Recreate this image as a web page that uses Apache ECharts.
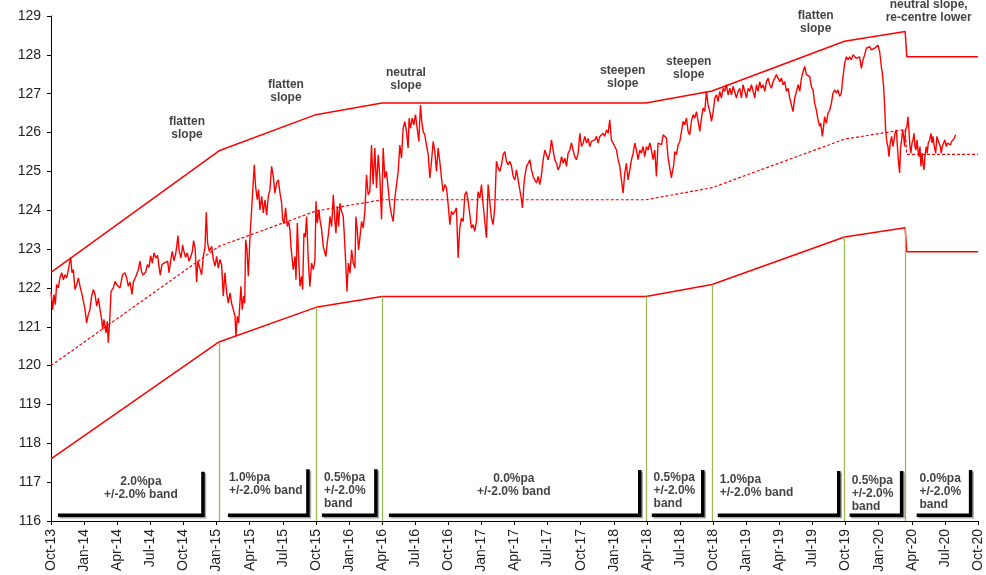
<!DOCTYPE html>
<html>
<head>
<meta charset="utf-8">
<script src="https://cdn.jsdelivr.net/npm/echarts@6/dist/echarts.min.js"></script>
<style>
html, body { margin: 0; padding: 0; background: #fff; }
#chart { width: 986px; height: 575px; }
</style>
</head>
<body>
<div id="chart"></div>
<script>
// x axis runs in months counted from Oct-13 (0) to Oct-20 (84)
const tickLabels = ['Oct-13','Jan-14','Apr-14','Jul-14','Oct-14','Jan-15','Apr-15','Jul-15','Oct-15',
  'Jan-16','Apr-16','Jul-16','Oct-16','Jan-17','Apr-17','Jul-17','Oct-17','Jan-18','Apr-18','Jul-18',
  'Oct-18','Jan-19','Apr-19','Jul-19','Oct-19','Jan-20','Apr-20','Jul-20','Oct-20'];

// price, [month, value]
const price = [
  [0.00,121.91],[0.15,121.44],[0.27,121.83],[0.39,121.57],[0.51,122.09],[0.66,122.00],[0.81,122.26],[0.97,122.39],
  [1.12,122.21],[1.27,122.34],[1.42,122.26],[1.57,122.47],[1.78,122.79],[1.90,122.39],[2.02,122.47],[2.17,121.96],
  [2.33,122.09],[2.48,122.26],[2.63,122.04],[2.78,121.87],[2.93,121.66],[3.08,121.44],[3.23,121.10],[3.38,121.32],
  [3.53,121.44],[3.68,121.79],[3.84,121.96],[3.99,121.83],[4.14,121.53],[4.29,121.74],[4.44,121.44],[4.59,121.19],
  [4.68,120.93],[4.80,121.19],[4.98,120.84],[5.10,121.14],[5.19,120.59],[5.31,121.10],[5.44,121.91],[5.65,122.00],
  [5.80,122.17],[5.95,122.09],[6.10,122.13],[6.25,122.00],[6.49,122.34],[6.70,122.39],[6.85,122.26],[7.01,122.04],
  [7.16,122.15],[7.34,121.83],[7.46,122.15],[7.70,122.30],[7.91,122.47],[8.06,122.69],[8.21,122.41],[8.36,122.33],
  [8.58,122.41],[8.73,122.60],[8.88,122.53],[9.03,122.83],[9.18,122.64],[9.33,122.90],[9.51,122.77],[9.66,122.84],
  [9.78,122.56],[9.90,122.33],[10.05,122.60],[10.24,122.64],[10.42,122.60],[10.57,122.69],[10.69,122.39],[10.84,122.69],
  [10.99,122.94],[11.14,122.70],[11.29,122.86],[11.41,123.11],[11.50,123.35],[11.62,122.94],[11.78,122.77],[11.93,123.11],
  [12.05,122.93],[12.20,122.79],[12.35,122.90],[12.50,122.69],[12.65,122.79],[12.80,122.93],[12.92,123.22],[13.07,122.99],
  [13.19,122.15],[13.31,122.69],[13.47,122.70],[13.65,122.34],[13.80,122.81],[13.95,123.03],[14.07,123.95],[14.19,123.16],
  [14.34,122.94],[14.56,123.07],[14.71,122.73],[14.86,122.56],[15.01,122.81],[15.16,122.51],[15.31,122.73],[15.46,122.60],
  [15.61,121.79],[15.76,122.39],[15.92,121.87],[16.07,121.61],[16.22,121.87],[16.37,121.60],[16.52,121.44],[16.67,121.27],
  [16.76,120.76],[16.88,121.27],[17.00,121.10],[17.12,121.61],[17.21,122.04],[17.33,121.44],[17.46,121.79],[17.55,121.61],
  [17.64,123.24],[17.76,122.98],[17.88,122.30],[18.03,123.31],[18.18,123.31],[18.33,124.74],[18.42,125.17],[18.54,124.61],
  [18.69,124.27],[18.81,124.53],[18.93,124.01],[19.09,124.36],[19.24,123.93],[19.39,124.27],[19.54,123.88],[19.69,124.36],
  [19.84,124.53],[19.99,125.13],[20.14,124.87],[20.29,124.44],[20.44,124.70],[20.60,124.78],[20.75,124.44],[20.90,124.18],
  [20.99,123.76],[21.11,123.65],[21.26,124.06],[21.41,123.58],[21.53,123.71],[21.65,123.50],[21.74,123.07],[21.86,122.73],
  [21.95,122.47],[22.11,122.81],[22.20,122.21],[22.32,123.67],[22.44,122.81],[22.56,122.04],[22.71,122.30],[22.80,121.96],
  [22.92,123.41],[23.04,123.31],[23.16,123.84],[23.31,122.73],[23.46,122.04],[23.61,122.64],[23.77,122.47],[23.92,122.73],
  [24.01,124.23],[24.13,123.67],[24.28,124.01],[24.37,123.76],[24.52,123.50],[24.67,123.07],[24.82,122.90],[24.91,122.81],
  [25.03,123.16],[25.15,123.41],[25.28,123.84],[25.43,123.58],[25.58,124.40],[25.70,123.84],[25.82,123.41],[25.94,124.10],
  [26.06,123.58],[26.18,124.18],[26.33,123.97],[26.48,123.84],[26.57,123.41],[26.69,122.73],[26.82,121.91],[26.94,122.64],
  [27.09,122.38],[27.24,122.98],[27.39,122.64],[27.54,122.51],[27.63,123.84],[27.75,123.50],[27.87,122.98],
  [27.99,123.29],[28.14,123.71],[28.29,123.54],[28.44,123.97],[28.59,124.91],[28.74,124.40],[28.89,124.48],[29.04,125.68],
  [29.19,124.66],[29.34,125.60],[29.50,124.57],[29.65,125.43],[29.80,124.83],[29.95,123.76],[30.10,125.60],[30.25,124.83],
  [30.40,125.00],[30.55,124.57],[30.70,124.14],[30.85,123.89],[31.01,123.71],[31.16,124.31],[31.31,124.66],[31.46,125.00],
  [31.61,125.68],[31.76,125.34],[31.91,126.11],[32.06,126.28],[32.21,126.03],[32.36,125.60],[32.45,126.37],[32.58,126.11],
  [32.73,126.37],[32.88,126.20],[33.03,126.46],[33.18,126.11],[33.33,125.77],[33.48,126.71],[33.60,126.28],[33.72,126.03],
  [33.87,125.94],[34.02,125.68],[34.18,125.43],[34.33,124.83],[34.48,125.26],[34.63,125.77],[34.78,125.51],[34.93,125.00],
  [35.08,125.60],[35.23,125.26],[35.38,124.83],[35.53,124.48],[35.69,124.66],[35.84,124.57],[35.99,124.14],[36.14,123.63],
  [36.29,123.97],[36.44,123.89],[36.59,123.97],[36.74,124.06],[36.89,122.77],[37.04,123.54],[37.19,123.80],[37.35,123.71],
  [37.50,124.40],[37.65,124.48],[37.80,124.23],[37.95,123.89],[38.10,123.54],[38.25,123.63],[38.40,123.46],[38.55,123.71],
  [38.70,124.48],[38.86,124.31],[39.01,124.66],[39.16,124.14],[39.31,123.71],[39.46,123.29],[39.61,124.66],[39.76,124.23],
  [39.91,123.80],[40.06,123.63],[40.21,124.06],[40.36,125.26],[40.52,125.09],[40.67,125.00],[40.82,125.17],[40.97,125.43],
  [41.12,125.51],[41.27,125.26],[41.42,125.17],[41.57,125.26],
  [41.73,125.13],[41.88,124.87],[42.03,124.78],[42.18,125.04],[42.33,124.78],[42.48,124.74],[42.63,124.27],[42.72,124.06],
  [42.84,124.61],[42.93,124.87],[43.09,125.13],[43.24,125.21],[43.39,125.30],[43.54,125.04],[43.69,124.87],[43.84,124.78],
  [43.99,124.70],[44.14,124.87],[44.29,124.66],[44.44,124.91],[44.60,125.30],[44.75,125.55],[44.90,125.55],[45.05,125.30],
  [45.20,125.47],[45.35,125.81],[45.50,125.55],[45.65,125.30],[45.80,125.21],[45.95,125.04],[46.10,125.13],[46.26,125.38],
  [46.41,125.21],[46.56,125.34],[46.71,125.13],[46.86,125.47],[47.01,125.55],[47.16,125.73],[47.31,125.55],[47.46,125.38],
  [47.61,125.30],[47.77,125.47],[47.92,125.98],[48.07,125.64],[48.22,125.73],[48.37,125.90],[48.52,125.73],[48.67,125.85],
  [48.82,125.64],[48.97,125.77],[49.12,125.73],[49.28,125.81],[49.43,125.90],[49.58,125.73],[49.73,125.90],[49.88,125.94],
  [50.03,125.98],[50.18,125.90],[50.33,126.07],[50.48,125.98],[50.63,126.33],[50.78,125.81],[50.94,125.77],[51.09,125.64],
  [51.24,125.55],[51.39,125.30],[51.54,125.13],[51.69,124.78],[51.84,124.44],[51.99,124.95],[52.14,125.21],[52.29,124.78],
  [52.45,125.04],[52.60,125.30],[52.75,125.47],[52.90,125.73],[53.05,125.55],[53.20,125.30],[53.35,125.55],[53.50,125.47],
  [53.65,125.64],[53.80,125.38],[53.96,125.64],[54.11,125.55],[54.26,125.73],[54.41,125.55],[54.56,125.30],[54.71,125.55],
  [54.86,124.87],[55.01,125.73],
  [55.17,125.77],[55.32,125.69],[55.47,125.94],[55.62,125.99],[55.77,125.86],[55.92,125.34],[56.07,125.09],[56.22,124.83],
  [56.31,125.00],[56.43,125.17],[56.52,125.51],[56.68,125.43],[56.83,125.69],[56.98,125.77],[57.13,126.03],[57.28,126.29],
  [57.43,126.20],[57.58,126.37],[57.73,126.03],[57.88,125.94],[58.03,126.29],[58.19,126.46],[58.34,126.37],[58.49,126.54],
  [58.64,126.29],[58.79,126.03],[58.94,126.37],[59.09,126.63],[59.24,126.54],[59.39,127.06],[59.54,126.71],[59.70,126.54],
  [59.85,126.29],[60.00,126.54],[60.15,126.89],[60.30,126.97],[60.45,126.80],[60.60,127.06],[60.75,126.89],[60.90,127.14],
  [61.05,127.06],[61.20,127.23],[61.36,126.97],[61.51,127.14],[61.66,126.97],[61.81,127.19],[61.96,127.14],[62.11,126.89],
  [62.26,127.06],[62.41,127.14],[62.56,126.89],[62.71,127.23],[62.87,127.06],[63.02,126.89],[63.17,127.14],[63.32,127.06],
  [63.47,127.23],[63.62,127.06],[63.77,126.89],[63.92,127.23],[64.07,127.06],[64.22,127.31],[64.37,127.14],[64.53,127.23],
  [64.68,127.06],[64.83,127.31],[64.98,127.40],[65.13,127.23],[65.28,127.14],[65.43,127.31],[65.58,127.40],[65.73,127.49],
  [65.88,127.40],[66.04,127.31],[66.19,127.40],[66.34,127.23],[66.49,127.31],[66.64,127.06],[66.79,127.14],[66.94,126.89],
  [67.09,126.71],[67.24,126.54],[67.39,126.89],[67.55,127.06],[67.70,127.23],[67.85,127.06],[68.00,127.40],[68.15,127.57],
  [68.30,127.70],[68.45,127.49],[68.60,127.53],
  [68.75,127.44],[68.90,127.18],[69.05,127.10],[69.20,126.75],[69.35,126.58],[69.50,126.33],[69.65,126.16],[69.74,126.24],
  [69.83,126.07],[69.89,125.90],[70.01,126.16],[70.10,126.41],[70.26,126.24],[70.41,126.50],[70.56,126.58],[70.71,126.75],
  [70.86,127.01],[71.01,127.10],[71.16,127.01],[71.31,127.10],[71.46,126.93],[71.61,127.01],[71.77,127.44],[71.92,127.78],
  [72.07,127.95],[72.22,127.87],[72.37,127.95],[72.52,127.87],[72.67,128.00],[72.82,127.95],[72.97,127.91],[73.12,127.87],
  [73.27,127.95],[73.43,127.65],[73.58,127.87],[73.73,128.00],[73.88,128.17],[74.03,128.13],[74.18,128.21],[74.33,128.13],
  [74.48,128.17],[74.63,128.17],[74.78,128.13],[74.94,128.25],[75.09,128.08],[75.24,127.70],[75.33,127.53],[75.45,127.18],
  [75.54,126.67],[75.63,126.07],[75.75,125.73],[75.84,125.64],[75.93,125.38],[76.05,125.73],[76.17,125.90],[76.30,125.64],
  [76.39,125.81],[76.48,125.98],[76.60,126.07],[76.72,125.55],[76.81,125.21],[76.90,124.96],[76.99,125.64],[77.08,125.81],
  [77.17,126.07],[77.26,125.90],[77.35,125.64],[77.44,126.07],[77.56,126.16],[77.65,126.41],[77.74,126.07],[77.83,125.64],
  [77.92,125.47],[78.02,125.73],[78.11,125.81],[78.20,125.98],[78.29,125.64],[78.38,125.55],[78.47,125.81],[78.56,125.55],
  [78.65,125.38],[78.74,125.64],[78.83,125.13],[78.92,125.47],[79.01,125.21],[79.10,125.04],[79.19,125.38],[79.31,125.64],
  [79.40,125.47],[79.49,125.73],[79.62,125.81],[79.74,125.98],[79.83,125.73],[79.92,125.90],[80.04,125.64],[80.16,125.47],
  [80.28,125.90],[80.37,125.81],[80.46,125.81],[80.58,125.64],[80.67,125.47],[80.76,125.64],[80.88,125.73],[81.00,125.81],
  [81.13,125.64],[81.25,125.73],[81.37,125.77],[81.49,125.68],[81.61,125.77],[81.73,125.81],[81.85,125.85],[81.97,125.94]
];

// trading band: centre line and +/-2% edges
const bandMonths = [0, 15.22, 24.0, 30.0, 53.9, 59.9, 71.9, 77.4, 77.55, 84];
const bandUpper  = [122.40, 125.53, 126.46, 126.76, 126.76, 127.07, 128.35, 128.60, 127.95, 127.95];
const bandMid    = [120.00, 123.07, 123.98, 124.27, 124.27, 124.58, 125.83, 126.08, 125.44, 125.44];
const bandLower  = [117.60, 120.61, 121.50, 121.78, 121.78, 122.09, 123.31, 123.55, 122.93, 122.93];

// regime changes (green markers)
const regimeMonths = [15.22, 24.0, 30.0, 53.9, 59.9, 71.9, 77.4];
const regimeTop    = [120.61, 121.50, 121.78, 121.78, 122.09, 123.31, 123.55];

// black brackets under each regime
const bracketStart = [0.63, 16.03, 24.55, 30.62, 54.44, 60.42, 72.37, 78.44];
const bracketEnd   = [13.77, 23.28, 29.44, 53.35, 59.06, 71.38, 77.08, 83.33];
const bracketTop   = [117.27, 117.33, 117.33, 117.31, 117.31, 117.29, 117.29, 117.31];

const bracketLabels = ['2.0%pa\n+/-2.0% band', '1.0%pa\n+/-2.0% band', '0.5%pa\n+/-2.0%\nband',
  '0.0%pa\n+/-2.0% band', '0.5%pa\n+/-2.0%\nband', '1.0%pa\n+/-2.0% band', '0.5%pa\n+/-2.0%\nband',
  '0.0%pa\n+/-2.0%\nband'];
const bracketLabelX = [8.15, 16.12, 24.73, 41.94, 54.6, 60.6, 72.55, 78.7];
const bracketLabelY = [116.85, 116.96, 116.78, 116.93, 116.78, 116.90, 116.71, 116.75];
const bracketLabelAlign = ['center', 'left', 'left', 'center', 'left', 'left', 'left', 'left'];

const slopeLabels = ['flatten\nslope', 'flatten\nslope', 'neutral\nslope', 'steepen\nslope',
  'steepen\nslope', 'flatten\nslope', 'neutral slope,\nre-centre lower'];
const slopeLabelX = [12.32, 21.29, 32.16, 51.81, 57.79, 69.29, 79.53];
const slopeLabelY = [126.11, 127.06, 127.37, 127.42, 127.65, 128.83, 129.12];

const FONT = '"Liberation Sans", Arial, sans-serif';

const chart = echarts.init(document.getElementById('chart'));

const zip = (xs, ys) => xs.map((x, i) => [x, ys[i]]);

const bracketSeries = bracketStart.map((s, i) => ({
  type: 'line',
  data: [[s, 116.15], [bracketEnd[i], 116.15], [bracketEnd[i], bracketTop[i]]],
  showSymbol: false,
  silent: true,
  lineStyle: {
    color: '#000', width: 3.5, cap: 'butt', join: 'miter',
    shadowColor: 'rgba(0,0,0,0.35)', shadowOffsetX: 1.5, shadowOffsetY: 1.5, shadowBlur: 0
  },
  z: 3
}));

chart.setOption({
  animation: false,
  backgroundColor: '#fff',
  grid: { left: 51, right: 8, top: 16, bottom: 54 },
  xAxis: {
    type: 'value',
    min: 0,
    max: 84,
    interval: 3,
    splitLine: { show: false },
    axisLine: { lineStyle: { color: '#000', width: 1 } },
    axisTick: { show: true, length: 4, lineStyle: { color: '#000' } },
    axisLabel: {
      rotate: 90,
      margin: 8,
      color: '#222',
      fontSize: 14,
      fontFamily: FONT,
      formatter: v => tickLabels[Math.round(v / 3)]
    }
  },
  yAxis: {
    type: 'value',
    min: 116,
    max: 129,
    interval: 1,
    splitLine: { show: false },
    axisLine: { show: true, lineStyle: { color: '#000', width: 1 } },
    axisTick: { show: true, length: 4, lineStyle: { color: '#000' } },
    axisLabel: { margin: 10, color: '#222', fontSize: 14, fontFamily: FONT }
  },
  series: [
    {
      // green regime markers
      type: 'line',
      data: [],
      silent: true,
      markLine: {
        symbol: 'none',
        silent: true,
        label: { show: false },
        lineStyle: { color: '#9bbb59', width: 1.3, type: 'solid' },
        data: regimeMonths.map((m, i) => [{ coord: [m, 116] }, { coord: [m, regimeTop[i]] }])
      },
      z: 2
    },
    ...bracketSeries,
    {
      type: 'line',
      data: zip(bandMonths, bandUpper),
      showSymbol: false,
      silent: true,
      lineStyle: { color: '#ff0000', width: 1.5 },
      z: 4
    },
    {
      type: 'line',
      data: zip(bandMonths, bandLower),
      showSymbol: false,
      silent: true,
      lineStyle: { color: '#ff0000', width: 1.5 },
      z: 4
    },
    {
      type: 'line',
      data: zip(bandMonths, bandMid),
      showSymbol: false,
      silent: true,
      lineStyle: { color: '#ff0000', width: 1.2, type: [3, 2] },
      z: 4
    },
    {
      type: 'line',
      data: price,
      showSymbol: false,
      silent: true,
      lineStyle: { color: '#ff0000', width: 1.4 },
      z: 5
    },
    {
      // bracket captions
      type: 'scatter',
      symbolSize: 0,
      silent: true,
      clip: false,
      data: bracketLabels.map((t, i) => ({
        value: [bracketLabelX[i], bracketLabelY[i]],
        label: { formatter: t, align: bracketLabelAlign[i] }
      })),
      label: {
        show: true,
        position: 'inside',
        verticalAlign: 'middle',
        color: '#111',
        fontSize: 12,
        fontWeight: 'bold',
        fontFamily: FONT,
        lineHeight: 13
      },
      z: 6
    },
    {
      // slope captions
      type: 'scatter',
      symbolSize: 0,
      silent: true,
      clip: false,
      data: slopeLabels.map((t, i) => ({
        value: [slopeLabelX[i], slopeLabelY[i]],
        label: { formatter: t }
      })),
      label: {
        show: true,
        position: 'inside',
        align: 'center',
        verticalAlign: 'middle',
        color: '#111',
        fontSize: 12,
        fontWeight: 'bold',
        fontFamily: FONT,
        lineHeight: 13
      },
      z: 6
    }
  ]
});
</script>
</body>
</html>
